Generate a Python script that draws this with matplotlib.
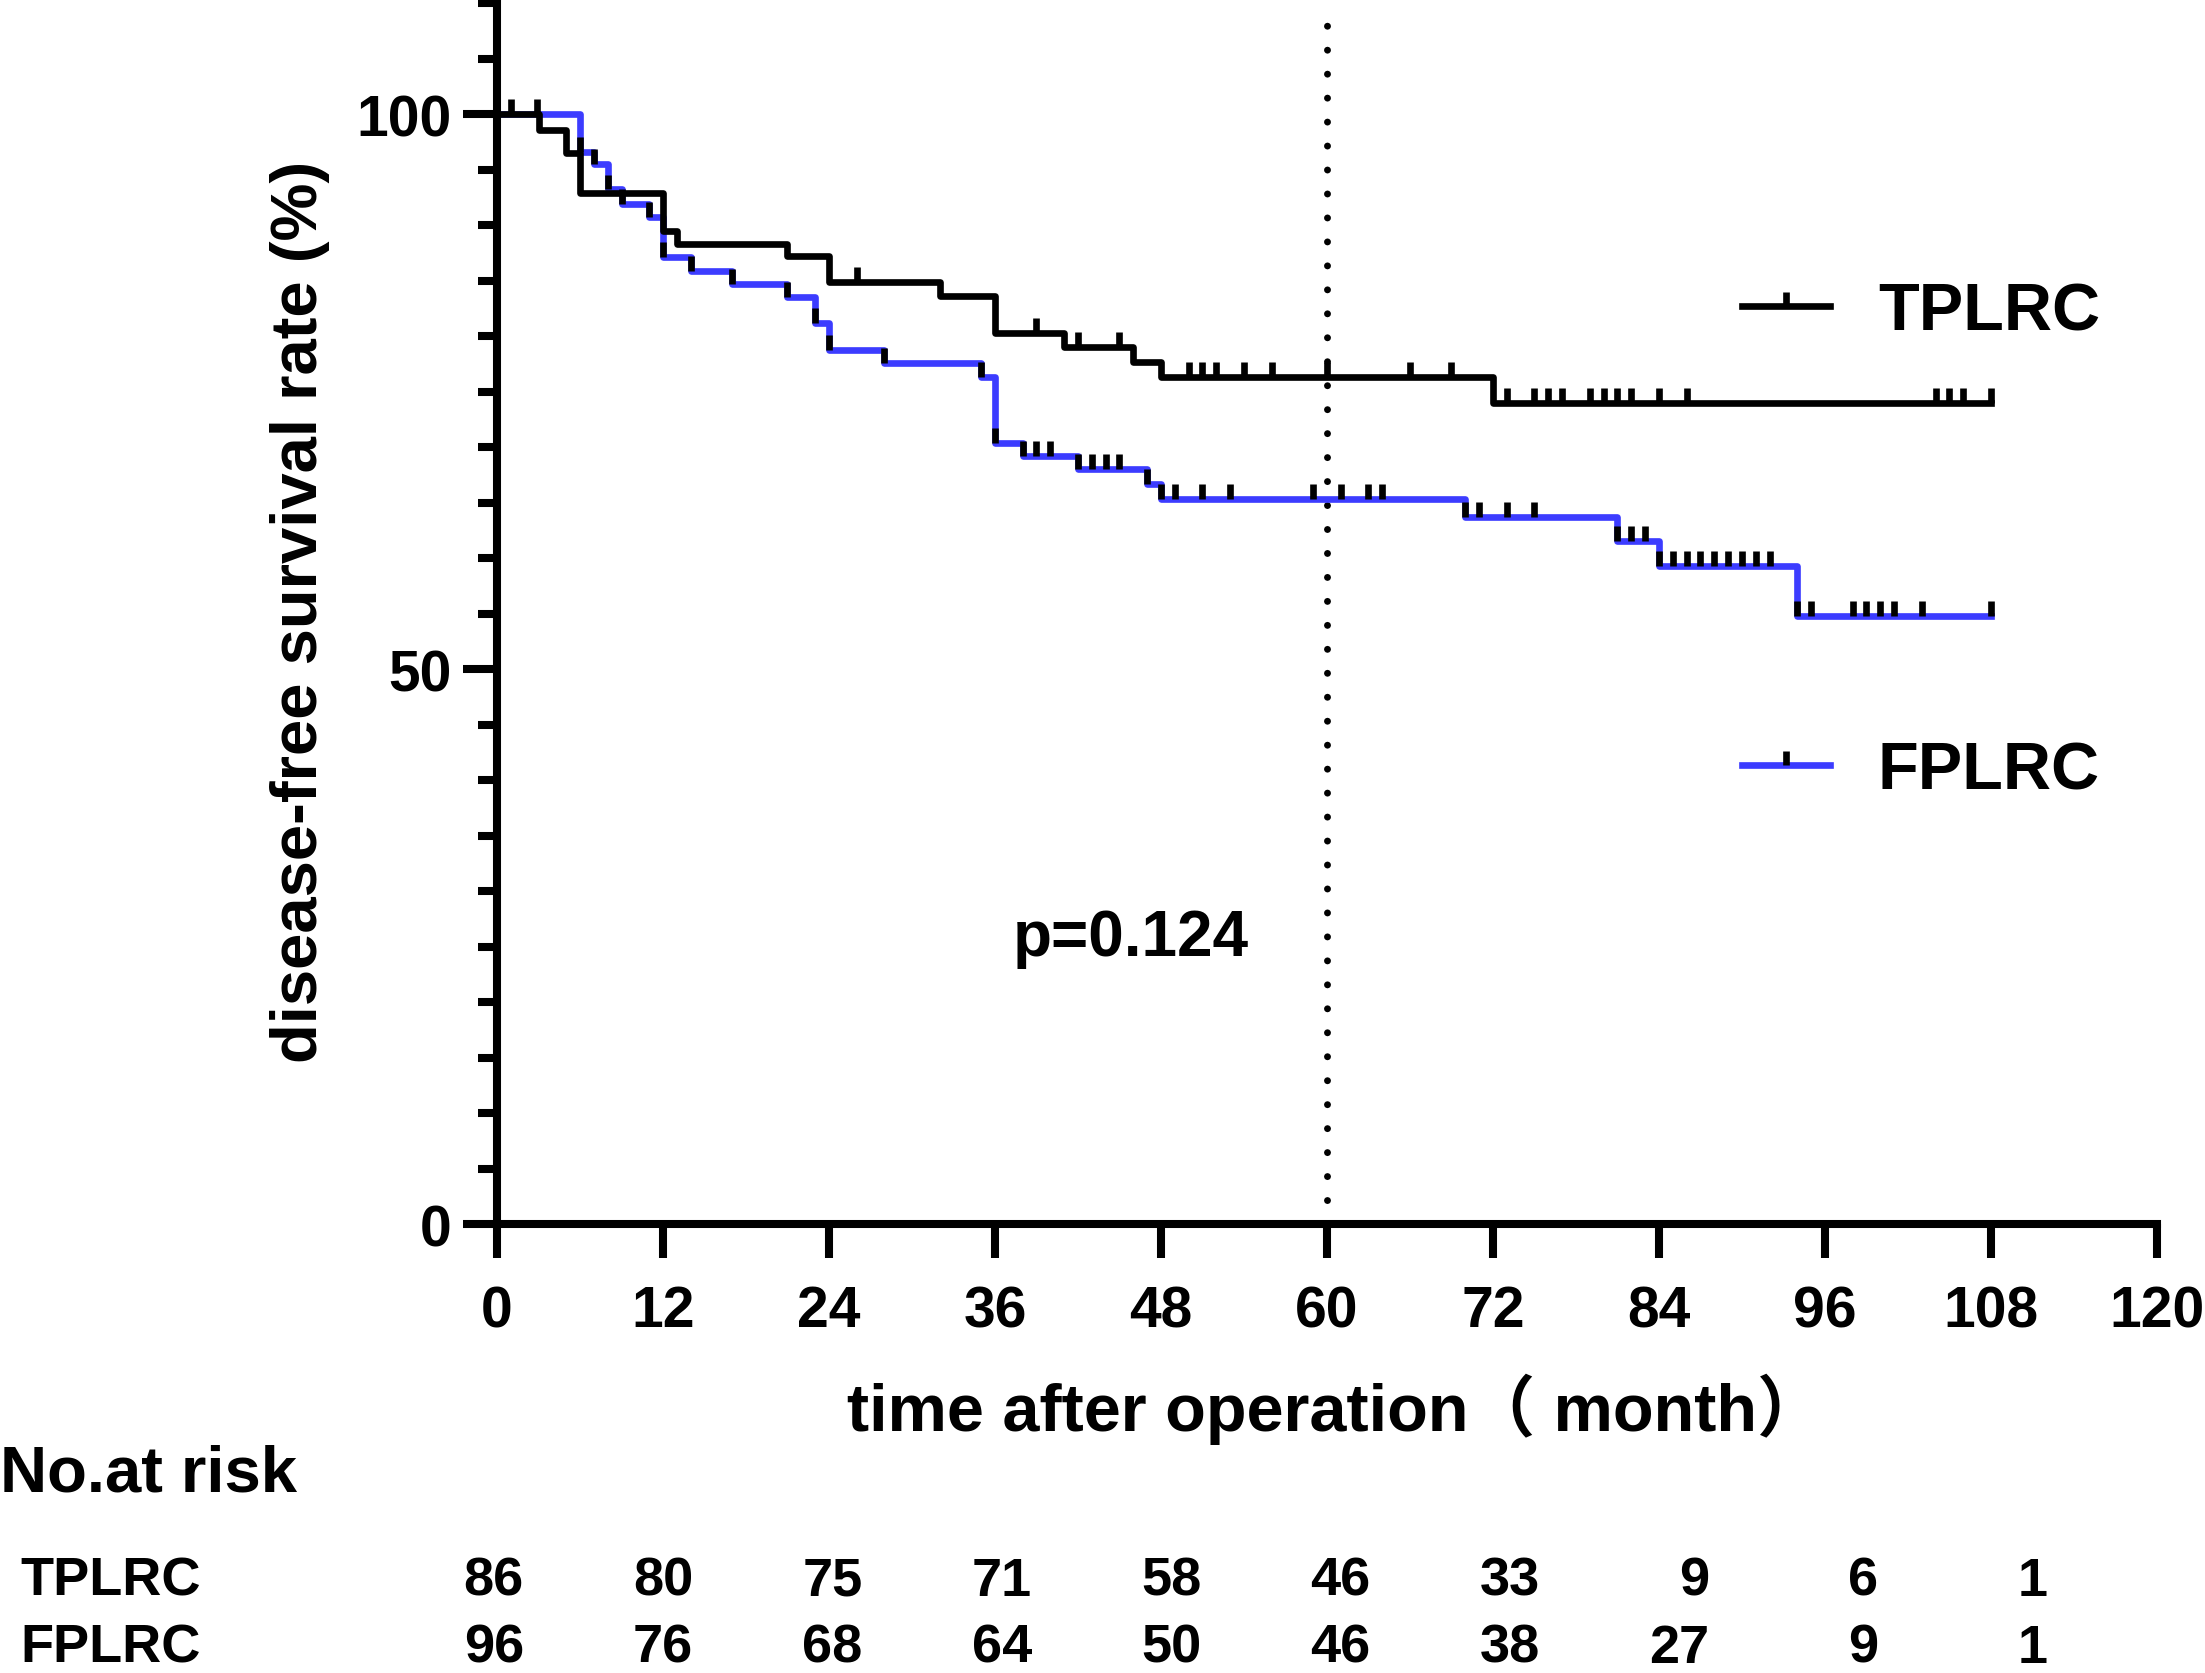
import numpy as np
import matplotlib
matplotlib.use("Agg")
import matplotlib.pyplot as plt
from matplotlib.lines import Line2D
from matplotlib.ticker import MultipleLocator
import matplotlib.transforms as mtransforms

plt.rcParams['font.family'] = ['Liberation Sans', 'Noto Sans CJK SC']
plt.rcParams['font.weight'] = 'bold'

# Kaplan-Meier steps (months, % disease-free)
tplrc_t = [0, 3, 5, 6, 12, 13, 21, 24, 32, 36, 41, 46, 48, 72, 108]
tplrc_s = [100, 98.6, 96.5, 92.9, 89.5, 88.3, 87.2, 84.9, 83.6, 80.3, 79.0, 77.7, 76.3, 74.0, 74.0]
tplrc_censor = [1, 2.9, 26, 39, 42, 45, 50, 51, 52, 54, 56, 60, 66, 69, 73, 75, 76, 77,
                79, 80, 81, 82, 84, 86, 104, 105, 106, 108]

fplrc_t = [0, 6, 7, 8, 9, 11, 12, 14, 17, 21, 23, 24, 28, 35, 36, 38, 42, 47, 48, 70, 81, 84, 94, 108]
fplrc_s = [100, 96.6, 95.5, 93.2, 91.9, 90.7, 87.1, 85.9, 84.7, 83.5, 81.2, 78.7, 77.6, 76.3,
           70.4, 69.2, 68.0, 66.7, 65.3, 63.7, 61.5, 59.3, 54.8, 54.8]
fplrc_censor = [39, 40, 43, 44, 45, 49, 51, 53, 59, 61, 63, 64, 71, 73, 75, 82, 83, 85, 86, 87,
                88, 89, 90, 91, 92, 95, 98, 99, 100, 101, 103, 108]

risk_groups = ['TPLRC', 'FPLRC']
risk_tplrc = [86, 80, 75, 71, 58, 46, 33, 9, 6, 1]
risk_fplrc = [96, 76, 68, 64, 50, 46, 38, 27, 9, 1]

blue = '#3c3cff'
lw = 4.8
tick_h = 1.35


def level_at(t, s, times):
    idx = np.searchsorted(t, times, side='right') - 1
    return np.asarray(s)[idx]


fig = plt.figure(figsize=(22.05, 16.74), dpi=100)
ax = fig.add_axes([0.2254, 0.2682, 0.7528, 0.7294])

ax.axvline(60, color='black', lw=5, linestyle=(0, (0.001, 3.45)),
           dash_capstyle='round', zorder=1)

ax.step(fplrc_t, fplrc_s, where='post', color=blue, lw=lw, zorder=2)
ax.step(tplrc_t, tplrc_s, where='post', color='black', lw=lw, zorder=3)

# censor marks (blue curve has black marks, also at its steps)
ft = list(fplrc_t[1:-1]) + fplrc_censor
fy = level_at(fplrc_t, fplrc_s, ft)
ax.vlines(ft, fy, fy + tick_h, color='black', lw=lw, zorder=4)
ty = level_at(tplrc_t, tplrc_s, tplrc_censor)
ax.vlines(tplrc_censor, ty, ty + tick_h, color='black', lw=lw, zorder=4)

ax.set_xlim(0, 120)
ax.set_ylim(0, 110)
ax.set_xticks(np.arange(0, 121, 12))
ax.set_yticks([0, 50, 100])
ax.yaxis.set_minor_locator(MultipleLocator(5))
for side in ['top', 'right']:
    ax.spines[side].set_visible(False)
for side in ['left', 'bottom']:
    ax.spines[side].set_linewidth(5.8)
ax.tick_params(axis='both', which='major', length=24.5, width=5.8, labelsize=41)
ax.tick_params(axis='y', which='major', pad=8)
ax.tick_params(axis='x', which='major', pad=19)
ax.tick_params(axis='y', which='minor', length=13.7, width=5.8)

ax.text(45.8, 24.2, 'p=0.124', fontsize=46, ha='center', va='baseline')

fig.text(300 / 2205, 1 - 612 / 1674, 'disease-free survival rate (%)', rotation=90,
         fontsize=47, ha='center', va='center')
fig.text(1335 / 2205, 1 - 1431 / 1674, 'time after operation\uff08 month\uff09',
         fontsize=48, ha='center', va='baseline')

handles = [
    Line2D([], [], color='black', lw=lw, marker=[(0, 0), (0, 1)], markersize=20,
           mew=lw, mec='black', mfc='none'),
    Line2D([], [], color=blue, lw=lw, marker=[(0, 0), (0, 1)], markersize=20,
           mew=lw, mec='black', mfc='none'),
]
ax.legend(handles, risk_groups, loc='center left',
          bbox_to_anchor=(1742 / 2205, 1 - 543 / 1674), bbox_transform=fig.transFigure,
          frameon=False, borderpad=0, borderaxespad=0, numpoints=1,
          handlelength=1.32, handletextpad=0.72, labelspacing=5.95,
          prop={'family': 'Liberation Sans', 'weight': 'bold', 'size': 48})

# number at risk table
fig.text(0, 1 - 1492 / 1674, 'No.at risk', fontsize=47, ha='left', va='baseline')
trans = mtransforms.blended_transform_factory(ax.transData, fig.transFigure)
rows_y = [1 - 1596 / 1674, 1 - 1663 / 1674]
for name, vals, yy in zip(risk_groups, [risk_tplrc, risk_fplrc], rows_y):
    fig.text(20 / 2205, yy, name, fontsize=39, ha='left', va='baseline')
    for i, v in enumerate(vals):
        ax.text(1.95 + 12.24 * i, yy, str(v), transform=trans, fontsize=39,
                ha='right', va='baseline', clip_on=False)

fig.savefig('out.png', dpi=100)
